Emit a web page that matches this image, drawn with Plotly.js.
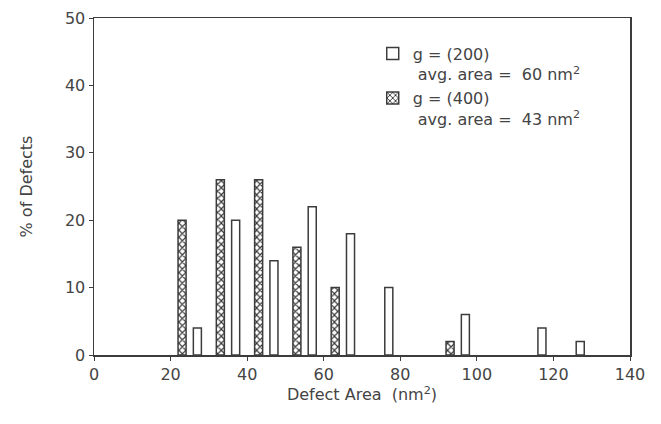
<!DOCTYPE html>
<html><head><meta charset="utf-8">
<script src="https://cdn.plot.ly/plotly-3.0.1.min.js"></script>
<style>html,body{margin:0;padding:0;background:#fff}#c{width:661px;height:424px}</style>
</head><body><div id="c"></div>
<script>
// g=(200) series
const x200 = [27, 37, 47, 57, 67, 77, 97, 117, 127];
const y200 = [4, 20, 14, 22, 18, 10, 6, 4, 2];
// g=(400) series
const x400 = [23, 33, 43, 53, 63, 93];
const y400 = [20, 26, 26, 16, 10, 2];
const name200 = "g = (200)<br> avg. area =  60 nm<sup>2</sup>";
const name400 = "g = (400)<br> avg. area =  43 nm<sup>2</sup>";
const xTicks = [0, 20, 40, 60, 80, 100, 120, 140];
const yTicks = [0, 10, 20, 30, 40, 50];

const ink = '#3c3c3c';
const traces = [
  {type:'bar', x:x200, y:y200, width:2.1, name:name200,
   marker:{color:'#ffffff', line:{color:ink, width:1.5}}},
  {type:'bar', x:x400, y:y400, width:2.1, name:name400,
   marker:{color:'#ffffff', line:{color:ink, width:1.5},
     pattern:{shape:'x', fgcolor:'#333', bgcolor:'#ffffff', size:5, solidity:0.4}}}
];
const layout = {
  width:661, height:424,
  margin:{l:94, r:31, t:18, b:69},
  paper_bgcolor:'#fff', plot_bgcolor:'#fff',
  font:{family:'"DejaVu Sans", sans-serif', size:16, color:'#444'},
  barmode:'overlay',
  showlegend:true,
  legend:{x:0.52, y:0.945, xanchor:'left', yanchor:'top', valign:'top',
    bgcolor:'rgba(0,0,0,0)', font:{size:16, color:'#444'}, traceorder:'normal'},
  xaxis:{range:[0,140], tickvals:xTicks, ticktext:xTicks.map(String),
    showgrid:false, zeroline:false, showline:true, linecolor:ink, linewidth:1.5,
    mirror:true, ticks:'outside', ticklen:4, tickcolor:ink, automargin:false,
    title:{text:'Defect Area  (nm<sup>2</sup>)', standoff:2, font:{size:16}}},
  yaxis:{range:[0,50], tickvals:yTicks, ticktext:yTicks.map(String),
    showgrid:false, zeroline:false, showline:true, linecolor:ink, linewidth:1.5,
    mirror:true, ticks:'outside', ticklen:4, tickcolor:ink, automargin:false,
    title:{text:'% of Defects', standoff:28, font:{size:16}}}
};
Plotly.newPlot('c', traces, layout, {displayModeBar:false, staticPlot:true});
</script></body></html>
